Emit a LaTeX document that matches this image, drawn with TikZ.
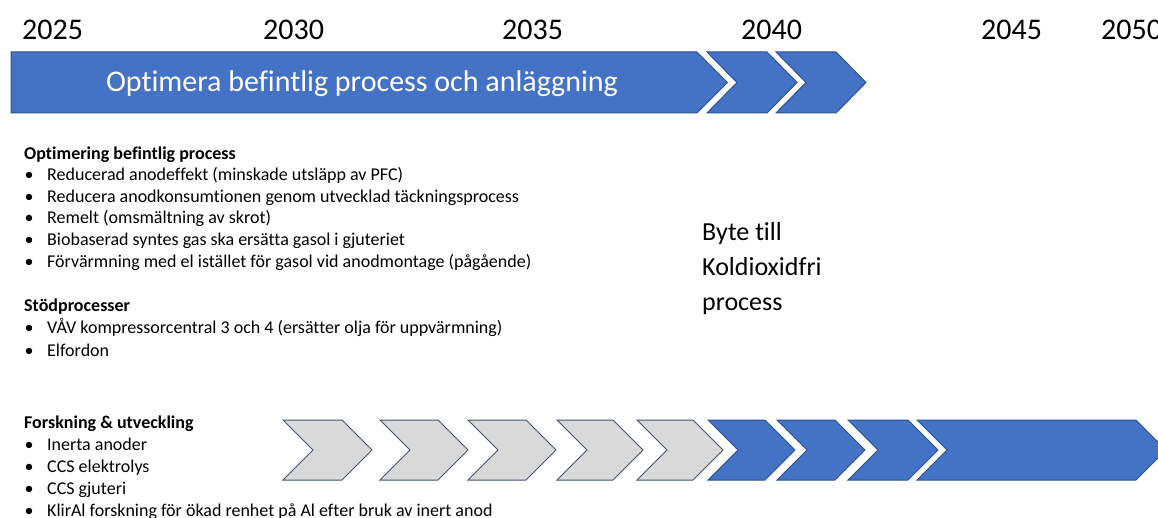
\documentclass[tikz,border=0pt]{standalone}
\usepackage{fontspec}
\setmainfont[Ligatures=NoCommon,Contextuals=NoAlternate]{Carlito}
\definecolor{obl}{HTML}{4472C4}
\definecolor{obd}{HTML}{2F528F}
\definecolor{ogr}{HTML}{D9D9D9}
\definecolor{ogd}{HTML}{44546A}
% #1 style, #2 left, #3 body right, #4 top, #5 bottom
\newcommand\mkchev[5]{\draw[#1] (#2,#4) -- (#3,#4) -- ({#3+30},{(#4+#5)/2}) -- (#3,#5) -- (#2,#5) -- ({#2+30},{(#4+#5)/2}) -- cycle;}
\newcommand\bul{\makebox[23pt][l]{\hspace{0.5pt}•}}
\begin{document}
\begin{tikzpicture}[x=1pt,y=-1pt,
  bluebox/.style={fill=obl,draw=obd,line width=1pt,line join=miter},
  graybox/.style={fill=ogr,draw=ogd,line width=1pt,line join=miter},
  year/.style={anchor=base west,inner sep=0pt,font=\fontsize{30}{36}\selectfont},
  bartext/.style={anchor=base,inner sep=0pt,text=white,font=\fontsize{30}{36}\selectfont},
  item/.style={anchor=base west,inner sep=0pt,font=\fontsize{18}{22}\selectfont},
  head/.style={item,font=\fontsize{18}{22}\selectfont\bfseries},
  big/.style={anchor=base west,inner sep=0pt,font=\fontsize{26}{35}\selectfont}]
\useasboundingbox (0,0) rectangle (1158,518);
\begin{scope}
\clip (0,0) rectangle (1158,518);
% years
\node[year] (y2025) at (22,40) {2025};
\node[year] (y2030) at (263,40) {2030};
\node[year] (y2035) at (502,40) {2035};
\node[year] (y2040) at (741,40) {2040};
\node[year] (y2045) at (981,40) {2045};
\node[year] (y2050) at (1101,40) {2050};
% top bar
\draw[bluebox] (11,52) -- (697,52) -- (727.5,82.5) -- (697,113) -- (11,113) -- cycle;
\mkchev{bluebox}{707}{767}{52}{113}
\mkchev{bluebox}{776}{836}{52}{113}
\node[bartext] (bar) at (362,92) {Optimera befintlig process och anläggning};
% lists
\node[head] (h1) at (24,160) {Optimering befintlig process};
\node[item] (a1) at (24,181) {\bul Reducerad anodeffekt (minskade utsläpp av PFC)};
\node[item] (a2) at (24,203) {\bul Reducera anodkonsumtionen genom utvecklad täckningsprocess};
\node[item] (a3) at (24,224) {\bul Remelt (omsmältning av skrot)};
\node[item] (a4) at (24,246) {\bul Biobaserad syntes gas ska ersätta gasol i gjuteriet};
\node[item] (a5) at (24,268) {\bul Förvärmning med el istället för gasol vid anodmontage (pågående)};
\node[head] (h2) at (24,312) {Stödprocesser};
\node[item] (b1) at (24,334) {\bul VÅV kompressorcentral 3 och 4 (ersätter olja för uppvärmning)};
\node[item] (b2) at (24,356) {\bul Elfordon};
\node[head] (h3) at (24,428) {Forskning \& utveckling};
\node[item] (c1) at (24,450) {\bul Inerta anoder};
\node[item] (c2) at (24,472) {\bul CCS elektrolys};
\node[item] (c3) at (24,494) {\bul CCS gjuteri};
\node[item] (c4) at (24,516) {\bul KlirAl forskning för ökad renhet på Al efter bruk av inert anod};
% Byte till
\node[big] (byte1) at (702,241) {Byte till};
\node[big] (byte2) at (702,276) {Koldioxidfri};
\node[big] (byte3) at (702,311) {process};
% bottom chevrons
\mkchev{graybox}{283}{342}{420}{480}
\mkchev{graybox}{380}{438}{420}{480}
\mkchev{graybox}{468}{526}{420}{480}
\mkchev{graybox}{557}{613}{420}{480}
\mkchev{graybox}{637}{693}{420}{480}
\mkchev{bluebox}{708}{765}{420}{480}
\mkchev{bluebox}{777}{835}{420}{480}
\mkchev{bluebox}{848}{908}{420}{480}
\mkchev{bluebox}{917}{1136}{420}{480}
\end{scope}
\end{tikzpicture}
\end{document}
